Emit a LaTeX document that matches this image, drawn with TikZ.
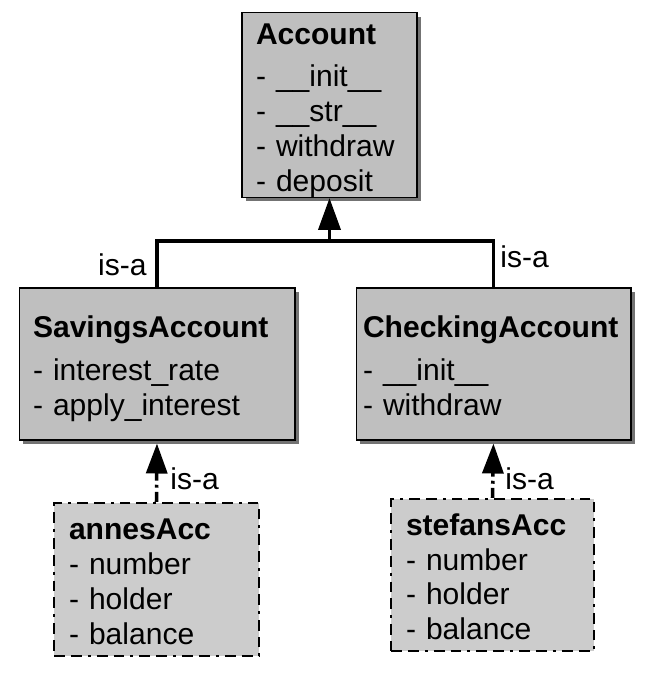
\documentclass[tikz,border=0pt]{standalone}
\usepackage{fontspec}
\setmainfont{Liberation Sans}
\usetikzlibrary{arrows.meta,shadows}

\newcommand{\umlfont}{\fontsize{17.1pt}{19.8pt}\selectfont}
\newcommand{\classtop}{\rule{0pt}{18pt}}
\newcommand{\objtop}{\rule{0pt}{14.5pt}}

\tikzset{
  classbox/.style={draw=black, line width=0.6pt, fill=black!25, align=left,
    inner xsep=0.28cm, inner ysep=0pt, font=\umlfont,
    drop shadow={shadow xshift=0.08cm, shadow yshift=-0.08cm, fill=black!55, opacity=1}},
  objbox/.style={draw=black, line width=1.4pt, fill=black!20, align=left,
    inner xsep=0.3cm, inner ysep=0pt, font=\umlfont,
    dash pattern=on 6.2pt off 3.4pt on 6.2pt off 3.4pt on 1.7pt off 3.4pt},
  isa/.style={line width=2.2pt, -{Triangle[length=0.64cm,width=0.44cm]}},
  isadashed/.style={line width=2pt, dash pattern=on 5.7pt off 2.3pt on 1.7pt off 2.3pt,
    -{Triangle[length=0.6cm,width=0.42cm]}, shorten >=0.06cm},
  isalabel/.style={font=\umlfont, inner sep=0pt}
}

\begin{document}
\begin{tikzpicture}[x=0.02cm,y=-0.02cm]
        \useasboundingbox (0,0) rectangle (659,674);
        % classes
        \node[classbox, minimum width=3.5cm, minimum height=3.64cm, text width=2.94cm] (account) at (329.5,105)
            {\classtop\textbf{Account}\\[4.5pt]- \_\_init\_\_\\- \_\_str\_\_\\- withdraw\\- deposit};
        \node[classbox, minimum width=5.52cm, minimum height=3.04cm, text width=4.96cm] (savings) at (157,364)
            {\classtop\textbf{SavingsAccount}\\[4.5pt]- interest\_rate\\- apply\_interest};
        \node[classbox, inner xsep=0.14cm, minimum width=5.5cm, minimum height=3.04cm, text width=5.22cm] (checking) at (493.5,364)
            {\rule{0pt}{14.6pt}\textbf{CheckingAccount}\\[4.5pt]- \_\_init\_\_\\- withdraw};
        % objects
        \node[objbox, minimum width=4.1cm, minimum height=3.06cm, text width=3.5cm] (annes) at (156.5,579.5)
            {\objtop\textbf{annesAcc}\\- number\\- holder\\- balance};
        \node[objbox, minimum width=4.06cm, minimum height=3.04cm, text width=3.46cm] (stefans) at (492.5,575)
            {\objtop\textbf{stefansAcc}\\- number\\- holder\\- balance};
        % inheritance
        \coordinate (split) at (329.5,241);
        \draw[isa] (savings.north) |- (split) -- (account.south);
        \draw[line width=2.2pt] (checking.north) |- (split);
        \draw[isadashed] (annes.north) -- (savings.south);
        \draw[isadashed] (stefans.north) -- (checking.south);
        % labels
        \node[isalabel, anchor=base east] (lsav) at ([xshift=-0.2cm, yshift=0.24cm]savings.north) {is-a};
        \node[isalabel, anchor=base west] (lchk) at ([xshift=0.13cm, yshift=0.4cm]checking.north) {is-a};
        \node[isalabel, anchor=base west] (lann) at ([xshift=0.27cm, yshift=0.24cm]annes.north) {is-a};
        \node[isalabel, anchor=base west] (lste) at ([xshift=0.25cm, yshift=0.16cm]stefans.north) {is-a};
    \end{tikzpicture}
\end{document}
